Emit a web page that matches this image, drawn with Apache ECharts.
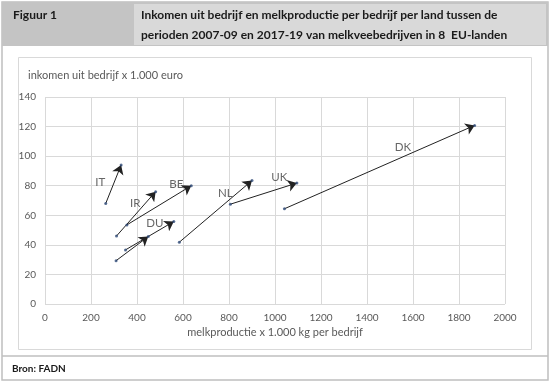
<!DOCTYPE html>
<html><head><meta charset="utf-8">
<script src="https://cdn.jsdelivr.net/npm/echarts@6/dist/echarts.min.js"></script>
<style>html,body{margin:0;padding:0;background:#fff}#c{width:550px;height:382px}</style>
</head><body><div id="c"></div>
<script>
const countries = ['IT','IR','BE','DU','','NL','UK','DK'];
const startX = [264, 311, 356, 350, 309, 584, 806, 1041];
const startY = [68, 46, 53.5, 36.6, 29.3, 41.8, 67.5, 64.4];
const endX   = [331, 481, 636, 560, 449, 900, 1095, 1868];
const endY   = [94, 76, 80, 55.8, 45.6, 83.5, 81.8, 120.8];
const labelX = [240, 392, 571, 478, null, 784, 1019, 1556];
const labelY = [82, 68.1, 81, 54.6, null, 75, 85.6, 106];
const xTicks = [0,200,400,600,800,1000,1200,1400,1600,1800,2000];
const yTicks = [0,20,40,60,80,100,120,140];
const titleFig = 'Figuur 1';
const titleLines = ['Inkomen uit bedrijf en melkproductie per bedrijf per land tussen de',
                    'perioden 2007-09 en 2017-19 van melkveebedrijven in 8  EU-landen'];
const xName = 'melkproductie x 1.000 kg per bedrijf';
const yName = 'inkomen uit bedrijf x 1.000 euro';
const source = 'Bron: FADN';

const FONT = 'Lato, "Open Sans", sans-serif';
const chart = echarts.init(document.getElementById('c'), null, {renderer:'canvas'});

const linesData = countries.map((c,i)=>({coords:[[startX[i],startY[i]],[endX[i],endY[i]]]}));
const dots = [];
countries.forEach((c,i)=>{dots.push([startX[i],startY[i]]);dots.push([endX[i],endY[i]]);});
const labels = countries.map((c,i)=>c?{value:[labelX[i],labelY[i]],name:c}:null).filter(Boolean);

chart.setOption({
  animation:false,
  grid:{left:45,right:45,top:97,bottom:78},
  xAxis:{type:'value',min:xTicks[0],max:xTicks[xTicks.length-1],interval:xTicks[1]-xTicks[0],
    axisLine:{show:false},axisTick:{show:false},
    splitLine:{lineStyle:{color:'#d9d9d9',width:1}},
    axisLabel:{color:'#595959',fontSize:10,fontFamily:FONT,margin:9,formatter:v=>String(v)}},
  yAxis:{type:'value',min:yTicks[0],max:yTicks[yTicks.length-1],interval:yTicks[1]-yTicks[0],
    axisLine:{show:false},axisTick:{show:false},
    splitLine:{lineStyle:{color:'#d9d9d9',width:1}},
    axisLabel:{color:'#595959',fontSize:10,fontFamily:FONT,margin:9,formatter:v=>String(v)}},
  series:[
    {type:'lines',coordinateSystem:'cartesian2d',data:linesData,
     symbol:['none','arrow'],symbolSize:[0,9],
     lineStyle:{color:'#222',width:1,opacity:1},z:3},
    {type:'scatter',data:dots,symbol:'circle',symbolSize:3,
     itemStyle:{color:'#2e4a78'},z:4},
    {type:'scatter',data:labels,symbolSize:0,z:5,
     label:{show:true,position:'inside',formatter:p=>p.name,
       color:'#404040',fontSize:11.5,fontFamily:FONT}}
  ],
  graphic:[
    {type:'rect',shape:{x:2,y:2,width:546,height:378},style:{fill:'none',stroke:'#bfbfbf',lineWidth:1.5},z:-10},
    {type:'rect',shape:{x:2,y:2,width:546,height:44},style:{fill:'#c4c4c4'},z:-9},
    {type:'rect',shape:{x:134,y:4,width:412,height:41},style:{fill:'#d9d9d9'},z:-8},
    {type:'rect',shape:{x:18.5,y:57.5,width:513,height:292},style:{fill:'#fff',stroke:'#d9d9d9',lineWidth:1},z:-7},
    {type:'line',shape:{x1:2,y1:356,x2:548,y2:356},style:{stroke:'#bfbfbf',lineWidth:1.5},z:-6},
    {type:'text',left:13,top:9,style:{text:titleFig,font:'bold 12px '+FONT,fill:'#1a1a1a'}},
    {type:'text',left:141,top:9,style:{text:titleLines[0],font:'bold 12px '+FONT,fill:'#1a1a1a'}},
    {type:'text',left:141,top:29,style:{text:titleLines[1],font:'bold 12px '+FONT,fill:'#1a1a1a'}},
    {type:'text',left:28,top:70,style:{text:yName,font:'11px '+FONT,fill:'#595959'}},
    {type:'text',left:'center',top:327,style:{text:xName,font:'11px '+FONT,fill:'#595959'}},
    {type:'text',left:12,top:364,style:{text:source,font:'bold 10px '+FONT,fill:'#1a1a1a'}}
  ]
});
</script></body></html>
